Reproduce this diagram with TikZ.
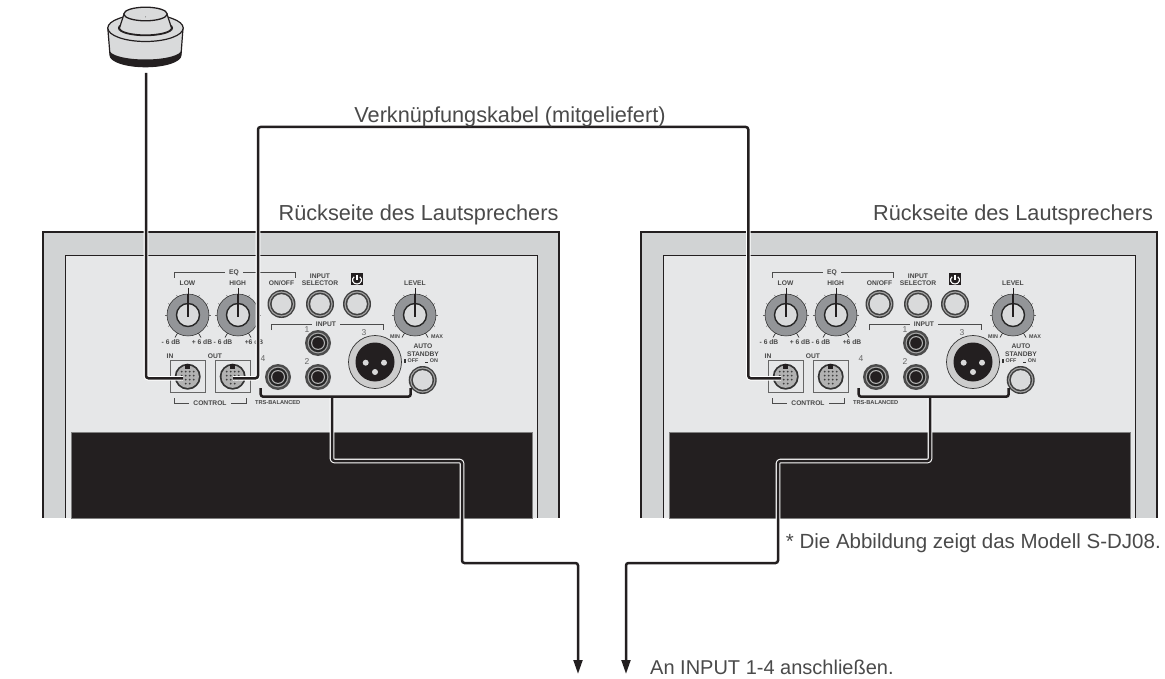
\documentclass[tikz,border=0pt]{standalone}
\usepackage{fontspec}
\setmainfont{Liberation Sans}
\usetikzlibrary{arrows.meta}
\definecolor{ink}{HTML}{231F20}
\definecolor{bandgray}{HTML}{D1D3D4}
\definecolor{facegray}{HTML}{E6E7E8}
\definecolor{knobgray}{HTML}{939598}
\definecolor{capgray}{HTML}{D9DADB}
\definecolor{textgray}{HTML}{4A4A4A}
\tikzset{
	caption/.style={font=\fontsize{21.7}{25}\selectfont, text=textgray, inner sep=0pt},
	tiny/.style={font=\fontsize{6.7}{7.4}\selectfont\bfseries, text=black!72, inner sep=0.5pt, align=center},
	mini/.style={font=\fontsize{5.4}{6}\selectfont\bfseries, text=black!72, inner sep=0.5pt},
	digit/.style={font=\fontsize{8.5}{9}\selectfont, text=black!60, inner sep=0pt},
	gaplabel/.style={tiny, fill=facegray, inner xsep=4pt, inner ysep=0pt},
	bracket/.style={draw=black!70, line width=0.8pt},
	wire/.style={draw=ink, line width=2.5pt, rounded corners=2.5pt},
	cable/.style={preaction={draw=white, line width=4.6pt}, wire},
	tipped/.style={-{Triangle[length=14pt,width=8.8pt]}},
	knob/.pic={
		\foreach \a in {-150,-120,-90,-60,-30,0,30,150,180} \draw[black!60, line width=0.5pt] (\a:20) -- (\a:23);
		\foreach \a in {60,120} \draw[black!80, line width=0.7pt] (\a:20) -- (\a:26);
		\draw[black!85, line width=0.5pt, fill=knobgray] (0,0) circle (21);
		\draw[black!85, line width=1.4pt, fill=capgray] (0,0) circle (11.5);
		\draw[ink, line width=1pt] (0,-27) -- (0,-20);
		\draw[ink, line width=2.2pt] (0,-21) -- (0,2);
	},
	pushbutton/.pic={
		\fill[black!75] (0,0) circle (14);
		\fill[black!35] (0,0) circle (12.6);
		\fill[black!75] (0,0) circle (11.4);
		\fill[capgray] (0,0) circle (9.8);
	},
	jack/.pic={
		\fill[black!70] (0,0) circle (13);
		\fill[black!35] (0,0) circle (10.4);
		\fill[black!85] (0,0) circle (9.2);
		\fill[black!30] (0,0) circle (7);
		\fill[ink] (0,0) circle (5.8);
	},
	din/.pic={
		\draw[black!60, line width=0.8pt] (-17.5,-16) rectangle (17.5,16);
		\fill[black!80] (0,0) circle (13);
		\fill[black!30] (0,0) circle (11.2);
		\fill[ink] (-2.5,-13) rectangle (2.5,-8);
		\foreach \x in {-6,-2,2,6} \foreach \y in {-5,-1,3} \fill[black!75] (\x,\y) circle (1);
		\foreach \x in {-2,2} \fill[black!75] (\x,7) circle (1);
	},
}
\newcommand{\backpanel}[2]{
	\begin{scope}[shift={(#1,0)}, name prefix=#2]
		\fill[bandgray] (42,232) rectangle (560,518);
		\fill[facegray] (65,256) rectangle (537,518);
		\draw[ink, line width=2.4pt] (43,518) |- (559,232) -- (559,518);
		\draw[ink, line width=1pt] (65,518) |- (537,256) -- (537,518);
		\draw[black!50, line width=0.5pt, fill=ink] (71,518) |- (532,432) -- (532,518) -- cycle;
		\draw[bracket] (174,278) |- (295,272.7) -- (295,278);
		\node[gaplabel] (eqlab) at (234,272.7) {EQ};
		\draw[bracket] (271,330) |- (383,324) -- (383,330);
		\node[gaplabel] (inputlab) at (326,324) {INPUT};
		\draw[bracket] (174,398) |- (246,403) -- (246,398);
		\node[gaplabel] (controllab) at (210,403) {CONTROL};
		\pic (low) at (188,315) {knob};
		\pic (high) at (238,315) {knob};
		\pic (level) at (415,315) {knob};
		\node[tiny] (lowlab) at (187.5,283) {LOW};
		\node[tiny] (highlab) at (237.7,283) {HIGH};
		\node[tiny] (onofflab) at (281.5,283) {ON/OFF};
		\node[tiny] (selectlab) at (320,279.5) {INPUT\\SELECTOR};
		\node[tiny] (levellab) at (415,283) {LEVEL};
		\node[tiny] at (171,342) (lowmin) {- 6 dB};
		\node[tiny] at (202,342) (lowmax) {+ 6 dB};
		\node[tiny] at (223,342) (highmin) {- 6 dB};
		\node[tiny] at (254,342) (highmax) {+6 dB};
		\node[mini] at (395,337) (minlab) {MIN};
		\node[mini] at (437,337) (maxlab) {MAX};
		\pic (onoff) at (281.5,304) {pushbutton};
		\pic (select) at (320,304) {pushbutton};
		\pic (power) at (357,304) {pushbutton};
		\pic (standby) at (422.7,380) {pushbutton};
		\node[fill=ink, minimum size=12.5pt, inner sep=0pt] (powerbox) at (357,279) {};
		\draw[white, line width=1.1pt] (354.2,276.8) .. controls (351,279) and (352.6,284) .. (357,284) .. controls (361.4,284) and (363,279) .. (359.8,276.8);
		\draw[white, line width=1.1pt] (357,274.6) -- (357,279.5);
		\pic (jackone) at (318,343) {jack};
		\pic (jacktwo) at (318,377) {jack};
		\pic (jackfour) at (278,377) {jack};
		\node[digit] (onelab) at (307,330) {1};
		\node[digit] (twolab) at (307,362) {2};
		\node[digit] (threelab) at (364,333) {3};
		\node[digit] (fourlab) at (263,359) {4};
		\draw[black!80, line width=0.7pt, fill=black!20] (375,362) circle (26.5);
		\fill[ink] (375,362) circle (19.5);
		\foreach \x/\y in {365.7/362.7, 384/362.7, 375/372} \fill[black!15] (\x,\y) circle (3);
		\node[tiny] (autolab) at (423,350) {AUTO\\STANDBY};
		\node[mini] (offlab) at (413,360.5) {OFF};
		\node[mini] (onlab) at (434,360.5) {ON};
		\fill[black!80] (403.5,363) rectangle (406,358.5);
		\fill[black!80] (424.5,363) rectangle (428,362.2);
		\pic (inbox) at (187.7,376.7) {din};
		\pic (outbox) at (232.7,376.7) {din};
		\node[tiny] (inlab) at (170,356) {IN};
		\node[tiny] (outlab) at (215,356) {OUT};
		\node[font=\fontsize{5.7}{6}\selectfont\bfseries, text=black!72, inner sep=0pt] (trslab) at (277.7,403) {TRS-BALANCED};
		\coordinate (in) at (183,378.3);
		\coordinate (out) at (233,378.3);
		\coordinate (trs) at (260.7,388);
		\coordinate (auto) at (410.7,388);
		\coordinate (tee) at (332,396.7);
	\end{scope}
}
\begin{document}
\begin{tikzpicture}[x=1pt, y=-1pt]
	\useasboundingbox (0,0) rectangle (1165,679);
	\fill[white] (0,0) rectangle (1165,679);
	% remote puck
	\draw[ink, line width=1.2pt, fill=capgray] (107.8,28) -- (110,55) arc (180:0:35.5 and 11.7) -- (183,28) -- cycle;
	\fill[ink] (109.4,50) arc (180:0:36 and 9.5) -- (181,55) arc (0:180:35.5 and 11.7) -- cycle;
	\draw[ink, line width=1.2pt, fill=capgray] (145.5,28) ellipse (37.7 and 13.5);
	\draw[ink, line width=1.6pt, fill=capgray] (145.5,28) ellipse (26.7 and 7.4);
	\draw[ink, line width=1.2pt, fill=capgray] (124,14) -- (119.5,28) arc (180:0:26 and 7) -- (167,14) -- cycle;
	\draw[ink, line width=1.3pt, fill=capgray] (145.5,14) ellipse (21.7 and 6.8);
	\fill[black!60] (145.5,17) circle (0.5);

	\backpanel{0}{L-}
	\backpanel{598}{R-}

	\coordinate (puck) at (146,73);
	\coordinate (linkup) at (258,127);
	\coordinate (linkdown) at (748.3,378.3);
	\coordinate (jogA) at (462,461);
	\coordinate (jogB) at (578,563);
	\coordinate (destA) at (578,674);
	\coordinate (jogC) at (778,461);
	\coordinate (jogD) at (626,563);
	\coordinate (destB) at (626,674);

	\draw[cable] (puck) |- (L-in);
	\draw[cable] (L-out) -| (linkup) -| (linkdown) -- (R-in);
	\draw[cable, tipped] (L-tee) |- (jogA) |- (jogB) -- (destA);
	\draw[cable, tipped] (R-tee) |- (jogC) |- (jogD) -- (destB);
	\draw[wire] (L-trs) |- (L-tee) -| (L-auto);
	\draw[wire] (R-trs) |- (R-tee) -| (R-auto);

	\node[caption] (linklab) at (510,117) {Verknüpfungskabel (mitgeliefert)};
	\node[caption] (rearL) at (418.5,215) {Rückseite des Lautsprechers};
	\node[caption] (rearR) at (1013,215) {Rückseite des Lautsprechers};
	\node[caption, anchor=east, font=\fontsize{20.5}{25}\selectfont] (notelab) at (1161,543) {* Die Abbildung zeigt das Modell S-DJ08.};
	\node[caption, anchor=west, font=\fontsize{20}{25}\selectfont] (destlab) at (650,667) {An INPUT 1-4 anschließen.};
\end{tikzpicture}
\end{document}
